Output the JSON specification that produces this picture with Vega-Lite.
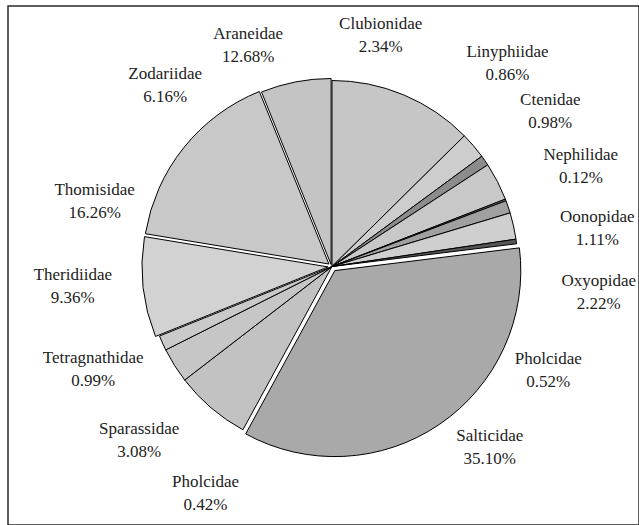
{
  "$schema": "https://vega.github.io/schema/vega-lite/v6.json",
  "width": 639,
  "height": 525,
  "autosize": {"type": "fit", "contains": "padding"},
  "padding": {"left": 8, "top": 6, "right": 0, "bottom": 0},
  "background": "white",
  "view": {"stroke": "#2a2a2a", "strokeWidth": 1.5},
  "data": {
    "values": [
      {"no": 1, "family": "Araneidae", "pct": 0.1268, "share": 12.6},
      {"no": 2, "family": "Clubionidae", "pct": 0.0234, "share": 2.3},
      {"no": 3, "family": "Linyphiidae", "pct": 0.0086, "share": 0.9},
      {"no": 4, "family": "Ctenidae", "pct": 0.0098, "share": 3.3},
      {"no": 5, "family": "Nephilidae", "pct": 0.0012, "share": 0.15},
      {"no": 6, "family": "Oonopidae", "pct": 0.0111, "share": 1.1},
      {"no": 7, "family": "Oxyopidae", "pct": 0.0222, "share": 2.3},
      {"no": 8, "family": "Pholcidae", "pct": 0.0052, "share": 0.4},
      {"no": 9, "family": "Salticidae", "pct": 0.351, "share": 34.9},
      {"no": 10, "family": "Pholcidae", "pct": 0.0042, "share": 6.6},
      {"no": 11, "family": "Sparassidae", "pct": 0.0308, "share": 3.05},
      {"no": 12, "family": "Tetragnathidae", "pct": 0.0099, "share": 1.3},
      {"no": 13, "family": "Theridiidae", "pct": 0.0936, "share": 8.7},
      {"no": 14, "family": "Thomisidae", "pct": 0.1626, "share": 16.3},
      {"no": 15, "family": "Zodariidae", "pct": 0.0616, "share": 6.1}
    ]
  },
  "layer": [
    {
      "mark": {"type": "arc", "outerRadius": 186, "stroke": "black", "strokeWidth": 1, "xOffset": 8.5, "yOffset": 1.0},
      "encoding": {
        "theta": {"field": "share", "type": "quantitative", "stack": true},
        "order": {"field": "no", "type": "quantitative"},
        "color": {"field": "no", "type": "nominal", "legend": null,
          "scale": {"domain": [1,2,3,4,5,6,7,8,9,10,11,12,13,14,15],
            "range": ["#c6c6c6","#cdcdcd","#8c8c8c","#c8c8c8","#7a7a7a","#a0a0a0","#cfcfcf","#555555","#a9a9a9","#c2c2c2","#c6c6c6","#cacaca","#d2d2d2","#c8c8c8","#c4c4c4"]}},
        "opacity": {"condition": {"test": "datum.no == 9 || datum.no >= 13", "value": 0}, "value": 1}
      }
    },
    {
      "mark": {"type": "arc", "outerRadius": 186, "stroke": "black", "strokeWidth": 1, "xOffset": 11.3, "yOffset": 5.1},
      "encoding": {
        "theta": {"field": "share", "type": "quantitative", "stack": true},
        "order": {"field": "no", "type": "quantitative"},
        "color": {"field": "no", "type": "nominal", "legend": null},
        "opacity": {"condition": {"test": "datum.no == 9", "value": 1}, "value": 0}
      }
    },
    {
      "mark": {"type": "arc", "outerRadius": 186, "stroke": "black", "strokeWidth": 1, "xOffset": 4.5, "yOffset": 1.4},
      "encoding": {
        "theta": {"field": "share", "type": "quantitative", "stack": true},
        "order": {"field": "no", "type": "quantitative"},
        "color": {"field": "no", "type": "nominal", "legend": null},
        "opacity": {"condition": {"test": "datum.no == 13", "value": 1}, "value": 0}
      }
    },
    {
      "mark": {"type": "arc", "outerRadius": 186, "stroke": "black", "strokeWidth": 1, "xOffset": 5.4, "yOffset": -1.5},
      "encoding": {
        "theta": {"field": "share", "type": "quantitative", "stack": true},
        "order": {"field": "no", "type": "quantitative"},
        "color": {"field": "no", "type": "nominal", "legend": null},
        "opacity": {"condition": {"test": "datum.no == 14", "value": 1}, "value": 0}
      }
    },
    {
      "mark": {"type": "arc", "outerRadius": 186, "stroke": "black", "strokeWidth": 1, "xOffset": 7.6, "yOffset": -1.0},
      "encoding": {
        "theta": {"field": "share", "type": "quantitative", "stack": true},
        "order": {"field": "no", "type": "quantitative"},
        "color": {"field": "no", "type": "nominal", "legend": null},
        "opacity": {"condition": {"test": "datum.no == 15", "value": 1}, "value": 0}
      }
    },
    {
      "transform": [{"filter": "datum.no <= 2"}],
      "mark": {"type": "text", "radius": 236, "font": "Liberation Serif", "fontSize": 17, "lineHeight": 23, "baseline": "middle", "dx": 8.5, "dy": -10.5, "color": "#222222",
        "text": {"expr": "[datum.family, format(datum.pct, '.2%')]"}},
      "encoding": {
        "theta": {"aggregate": "count", "type": "quantitative", "stack": true, "scale": {"range": [-0.6484, 0.4931]}},
        "order": {"field": "no", "type": "quantitative"},
        "detail": [{"field": "family", "type": "nominal"}, {"field": "pct", "type": "quantitative"}]
      }
    },
    {
      "transform": [{"filter": "datum.no >= 3 && datum.no <= 7"}],
      "mark": {"type": "text", "radius": 268, "font": "Liberation Serif", "fontSize": 17, "lineHeight": 23, "baseline": "middle", "dx": 8.5, "dy": -10.5, "color": "#222222",
        "text": {"expr": "[datum.family, format(datum.pct, '.2%')]"}},
      "encoding": {
        "theta": {"aggregate": "count", "type": "quantitative", "stack": true, "scale": {"range": [0.5947, 1.7859]}},
        "order": {"field": "no", "type": "quantitative"},
        "detail": [{"field": "family", "type": "nominal"}, {"field": "pct", "type": "quantitative"}]
      }
    },
    {
      "transform": [{"filter": "datum.no == 8 || datum.no == 9"}],
      "mark": {"type": "text", "radius": 240, "font": "Liberation Serif", "fontSize": 17, "lineHeight": 23, "baseline": "middle", "dx": 8.5, "dy": -10.5, "color": "#222222",
        "text": {"expr": "[datum.family, format(datum.pct, '.2%')]"}},
      "encoding": {
        "theta": {"aggregate": "count", "type": "quantitative", "stack": true, "scale": {"range": [1.8169, 2.6267]}},
        "order": {"field": "no", "type": "quantitative"},
        "detail": [{"field": "family", "type": "nominal"}, {"field": "pct", "type": "quantitative"}]
      }
    },
    {
      "transform": [{"filter": "datum.no >= 10 && datum.no <= 13"}],
      "mark": {"type": "text", "radius": 260, "font": "Liberation Serif", "fontSize": 17, "lineHeight": 23, "baseline": "middle", "dx": 8.5, "dy": -10.5, "color": "#222222",
        "text": {"expr": "[datum.family, format(datum.pct, '.2%')]"}},
      "encoding": {
        "theta": {"aggregate": "count", "type": "quantitative", "stack": true, "scale": {"range": [3.4854, 4.7979]}},
        "order": {"field": "no", "type": "quantitative"},
        "detail": [{"field": "family", "type": "nominal"}, {"field": "pct", "type": "quantitative"}]
      }
    },
    {
      "transform": [{"filter": "datum.no >= 14"}],
      "mark": {"type": "text", "radius": 246, "font": "Liberation Serif", "fontSize": 17, "lineHeight": 23, "baseline": "middle", "dx": 8.5, "dy": -10.5, "color": "#222222",
        "text": {"expr": "[datum.family, format(datum.pct, '.2%')]"}},
      "encoding": {
        "theta": {"aggregate": "count", "type": "quantitative", "stack": true, "scale": {"range": [4.6976, 5.8180]}},
        "order": {"field": "no", "type": "quantitative"},
        "detail": [{"field": "family", "type": "nominal"}, {"field": "pct", "type": "quantitative"}]
      }
    }
  ],
  "resolve": {"scale": {"theta": "independent"}}
}
